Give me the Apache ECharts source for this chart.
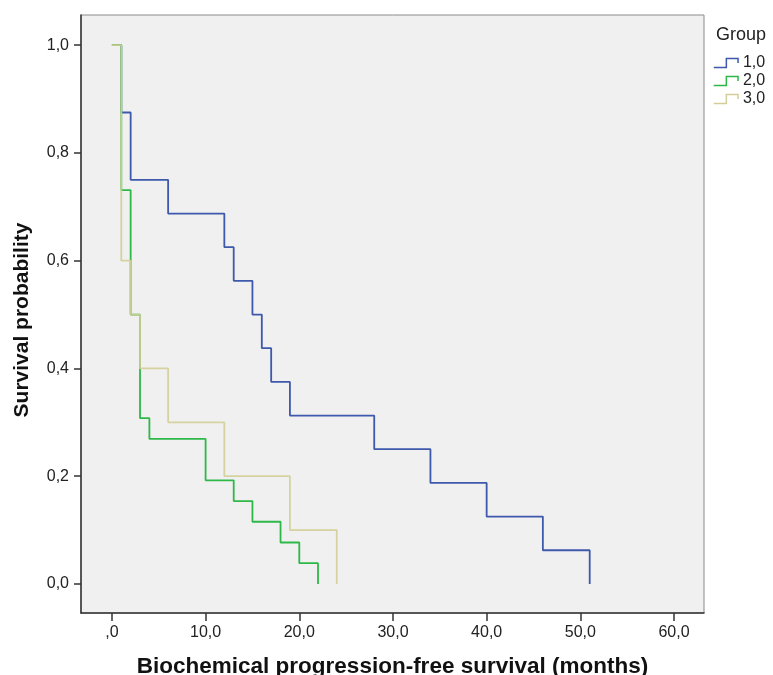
<!DOCTYPE html>
<html><head><meta charset="utf-8">
<script src="https://cdn.jsdelivr.net/npm/echarts@6/dist/echarts.min.js"></script>
<style>html,body{margin:0;padding:0;background:#fff}#c{width:773px;height:675px}</style>
</head><body><div id="c"></div>
<script>
const groupNames = ['1,0', '2,0', '3,0'];
const timesG1 = [0, 1, 2, 6, 12, 13, 15, 16, 17, 19, 28, 34, 40, 46, 51];
const survG1 = [1, 0.875, 0.75, 0.6875, 0.625, 0.5625, 0.5, 0.4375, 0.375, 0.3125, 0.25, 0.1875, 0.125, 0.0625, 0];
const timesG2 = [0, 1, 2, 3, 4, 10, 13, 15, 18, 20, 22];
const survG2 = [1, 0.7308, 0.5, 0.3077, 0.2692, 0.1923, 0.1538, 0.1154, 0.0769, 0.0385, 0];
const timesG3 = [0, 1, 2, 3, 6, 12, 19, 24];
const survG3 = [1, 0.6, 0.5, 0.4, 0.3, 0.2, 0.1, 0];
const xTicks = [0, 10, 20, 30, 40, 50, 60];
const xTickLabels = [',0', '10,0', '20,0', '30,0', '40,0', '50,0', '60,0'];
const yTicks = [0, 0.2, 0.4, 0.6, 0.8, 1];
const yTickLabels = ['0,0', '0,2', '0,4', '0,6', '0,8', '1,0'];

const colors = ['#3E58AC', '#2EB848', '#D3CE97'];
const FONT = 'Liberation Sans, Arial, sans-serif';
function zip(t, s) { return t.map((v, i) => [v, s[i]]); }
function lookup(ticks, labels) {
  return function (v) {
    const i = ticks.findIndex(t => Math.abs(t - v) < 1e-9);
    return i >= 0 ? labels[i] : '';
  };
}
const seriesData = [zip(timesG1, survG1), zip(timesG2, survG2), zip(timesG3, survG3)];
const stepIcon = 'path://M0,10 L14,10 L14,0 L27,0 L27,5';

const chart = echarts.init(document.getElementById('c'), null, { renderer: 'canvas' });
chart.setOption({
  animation: false,
  backgroundColor: '#ffffff',
  textStyle: { fontFamily: FONT },
  title: {
    text: 'Group', left: 716, top: 26, padding: 0,
    textStyle: { fontFamily: FONT, fontSize: 18, fontWeight: 'normal', color: '#222' }
  },
  legend: {
    orient: 'vertical', left: 713, top: 55, padding: 0,
    itemWidth: 28, itemHeight: 9, itemGap: 2,
    icon: stepIcon,
    textStyle: { fontFamily: FONT, fontSize: 16, color: '#222', padding: [0, 0, 0, -2] },
    data: groupNames.map((n, i) => ({
      name: n,
      itemStyle: { color: 'transparent', borderColor: colors[i], borderWidth: 1.5 }
    }))
  },
  grid: {
    left: 81, top: 15, right: 69, bottom: 62,
    show: true, backgroundColor: '#F0F0F0', borderColor: '#8a8a8a', borderWidth: 1,
    outerBoundsMode: 'none'
  },
  xAxis: {
    type: 'value', min: -3.3, max: 63.2,
    name: 'Biochemical progression-free survival (months)',
    nameLocation: 'middle', nameGap: 42,
    nameTextStyle: { fontFamily: FONT, fontSize: 22.5, fontWeight: 'bold', color: '#111' },
    axisLine: { show: true, onZero: false, lineStyle: { color: '#333', width: 1.5 } },
    axisTick: { show: true, customValues: xTicks, length: 8, lineStyle: { color: '#333', width: 1.5 } },
    axisLabel: { customValues: xTicks, formatter: lookup(xTicks, xTickLabels), margin: 12,
      fontFamily: FONT, fontSize: 16, color: '#222' },
    splitLine: { show: false }
  },
  yAxis: {
    type: 'value', min: -0.054, max: 1.056,
    name: 'Survival probability',
    nameLocation: 'middle', nameGap: 48,
    nameTextStyle: { fontFamily: FONT, fontSize: 21, fontWeight: 'bold', color: '#111', padding: [0, 12, 0, 0] },
    axisLine: { show: true, onZero: false, lineStyle: { color: '#333', width: 1.5 } },
    axisTick: { show: true, customValues: yTicks, length: 7, lineStyle: { color: '#333', width: 1.5 } },
    axisLabel: { customValues: yTicks, formatter: lookup(yTicks, yTickLabels), margin: 12,
      fontFamily: FONT, fontSize: 16, color: '#222' },
    splitLine: { show: false }
  },
  series: seriesData.map((d, i) => ({
    name: groupNames[i],
    type: 'line',
    step: 'end',
    symbol: 'none',
    data: d,
    color: colors[i],
    lineStyle: { color: colors[i], width: 1.8, opacity: i === 2 ? 0.9 : 1 },
    silent: true,
    z: 2 + i
  }))
});
</script>
</body></html>
